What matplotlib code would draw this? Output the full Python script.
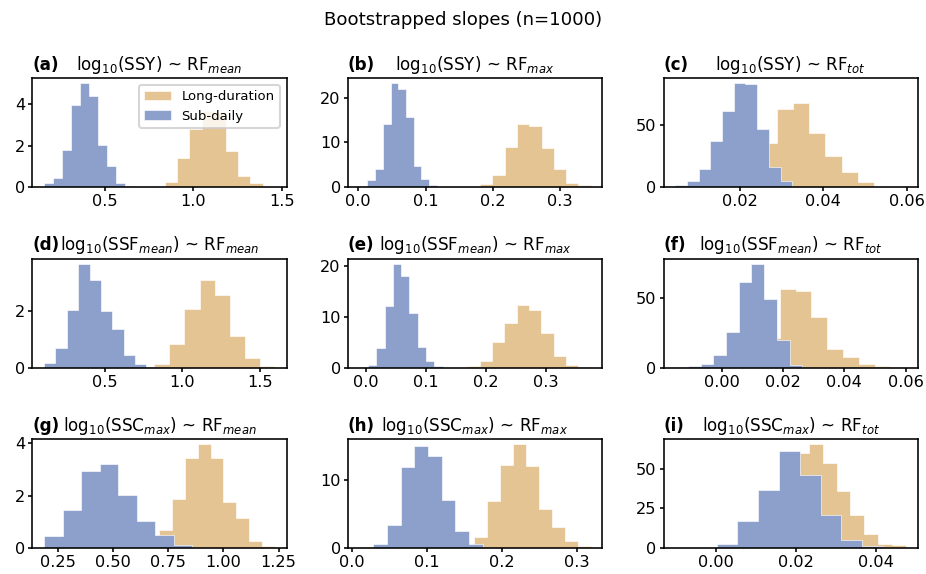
import numpy as np
import matplotlib
matplotlib.use("Agg")
import matplotlib.pyplot as plt

# bootstrapped slope histograms, density heights
# each series: (bin range low, bin range high, 10 bar heights)
panel_labels = ["(a)", "(b)", "(c)", "(d)", "(e)", "(f)", "(g)", "(h)", "(i)"]
panel_titles = [
    r"log$_{10}$(SSY) ~ RF$_{mean}$",
    r"log$_{10}$(SSY) ~ RF$_{max}$",
    r"log$_{10}$(SSY) ~ RF$_{tot}$",
    r"log$_{10}$(SSF$_{mean}$) ~ RF$_{mean}$",
    r"log$_{10}$(SSF$_{mean}$) ~ RF$_{max}$",
    r"log$_{10}$(SSF$_{mean}$) ~ RF$_{tot}$",
    r"log$_{10}$(SSC$_{max}$) ~ RF$_{mean}$",
    r"log$_{10}$(SSC$_{max}$) ~ RF$_{max}$",
    r"log$_{10}$(SSC$_{max}$) ~ RF$_{tot}$",
]

long_range = [
    (0.769, 1.462), (0.163, 0.345), (0.0212, 0.0598),
    (0.623, 1.598), (0.169, 0.374), (0.0087, 0.0601),
    (0.6506, 1.2334), (0.1455, 0.3179), (0.0128, 0.0476),
]
long_heights = [
    [0.08, 0.26, 1.42, 2.79, 3.70, 3.65, 1.74, 0.53, 0.21, 0.08],
    [0.05, 0.8, 2.7, 9.0, 14.2, 13.6, 8.7, 4.1, 1.0, 0.4],
    [8, 35.5, 62.4, 67.7, 43, 24.7, 12.1, 4.0, 0.8, 0.3],
    [0.01, 0.01, 0.12, 0.85, 2.08, 3.1, 2.58, 1.13, 0.36, 0.06],
    [0.4, 1.25, 5.0, 8.75, 12.4, 11.4, 6.8, 2.3, 0.5, 0.1],
    [0.3, 21.4, 56.3, 55.5, 36.3, 13.5, 7.5, 2.9, 1.2, 0.5],
    [0.4, 0.7, 1.86, 3.46, 3.97, 3.46, 1.77, 1.15, 0.28, 0.09],
    [0.05, 1.63, 6.93, 12.2, 15.3, 12.1, 5.7, 3.07, 0.99, 0.25],
    [10, 27.6, 60, 65.4, 53.8, 35.9, 21.1, 8.9, 2.7, 1.9],
]

sub_range = [
    (0.153, 0.666), (0.002, 0.117), (0.0046, 0.0326),
    (0.105, 0.841), (-0.0105, 0.128), (-0.0151, 0.0263),
    (0.188, 1.028), (0.0098, 0.1924), (-0.0102, 0.0418),
]
sub_heights = [
    [0.21, 0.45, 1.79, 3.97, 5.02, 4.40, 2.06, 1.02, 0.21, 0.06],
    [0.3, 1.6, 4.0, 14.0, 23.2, 22.0, 15.7, 4.7, 1.9, 0.4],
    [1.9, 4.8, 14.2, 36.9, 61.2, 83.2, 82.4, 46.8, 15.9, 5.1],
    [0.17, 0.70, 2.05, 3.69, 3.13, 2.0, 1.39, 0.45, 0.13, 0.02],
    [0.2, 0.6, 3.9, 12.2, 20.4, 18.0, 10.7, 4.1, 1.25, 0.4],
    [0.25, 1.2, 2.4, 9.1, 26, 61.5, 74.8, 49.5, 20, 2.2],
    [0.45, 1.44, 2.95, 3.2, 2.05, 1.03, 0.51, 0.13, 0.02, 0.01],
    [0.15, 0.6, 3.37, 12.0, 15.1, 13.6, 7.1, 2.57, 0.6, 0.05],
    [0.2, 0.2, 2.5, 16.9, 36.9, 61.2, 46, 20.9, 5.3, 1.5],
]

long_color = "#e5c494"
sub_color = "#8da0cb"

plt.rcParams["font.size"] = 8
plt.rcParams["xtick.major.size"] = 1.75
plt.rcParams["ytick.major.size"] = 1.75
plt.rcParams["xtick.major.pad"] = 1.8
plt.rcParams["ytick.major.pad"] = 1.8

fig, axes = plt.subplots(3, 3, figsize=(926 / 145, 574 / 145), dpi=145)
fig.subplots_adjust(left=0.035, right=0.991, top=0.864, bottom=0.045,
                    wspace=0.242, hspace=0.654)

for i, ax in enumerate(axes.flat):
    lo, hi = long_range[i]
    h = long_heights[i]
    bins = np.linspace(lo, hi, len(h) + 1)
    ax.hist(bins[:-1], bins=bins, weights=h, histtype="stepfilled",
            color=long_color, edgecolor="white", linewidth=0.3,
            label="Long-duration")

    lo, hi = sub_range[i]
    h = sub_heights[i]
    bins = np.linspace(lo, hi, len(h) + 1)
    ax.hist(bins[:-1], bins=bins, weights=h, histtype="stepfilled",
            color=sub_color, edgecolor="white", linewidth=0.3,
            label="Sub-daily")

    ax.set_title(panel_titles[i], fontsize=8.3, pad=4)
    ax.set_title(panel_labels[i], loc="left", fontweight="bold",
                 fontsize=8.3, pad=4)

axes[0, 0].legend(loc="upper right", fontsize=6.6)
fig.suptitle("Bootstrapped slopes (n=1000)", fontsize=9)

fig.savefig("out.png", dpi=145)
